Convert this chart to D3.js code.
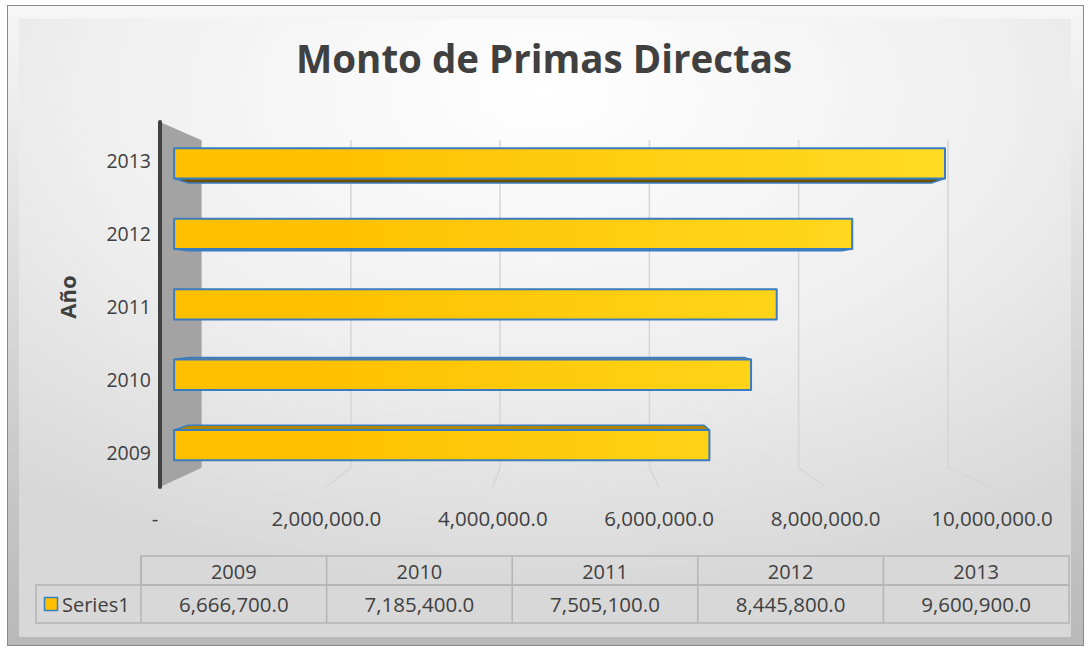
<!DOCTYPE html>
<html>
<head>
<meta charset="utf-8">
<script src="https://cdn.jsdelivr.net/npm/d3@7"></script>
<style>
  body { margin: 0; background: #fff; }
  text { font-family: "Open Sans", "Liberation Sans", sans-serif; fill: #404040; }
</style>
</head>
<body>
<svg id="chart" width="1089" height="650"></svg>
<script>
const years = ['2009', '2010', '2011', '2012', '2013']
const values = [6666700, 7185400, 7505100, 8445800, 9600900]
const ticks = [0, 2000000, 4000000, 6000000, 8000000, 10000000]
const seriesName = 'Series1'
const title = 'Monto de Primas Directas'
const yTitle = 'Año'

const svg = d3.select('#chart')
const defs = svg.append('defs')

// background + bevelled frame
const bg = defs.append('radialGradient').attr('id', 'bg')
  .attr('cx', '0.5').attr('cy', '0.12').attr('r', '0.8')
bg.append('stop').attr('offset', '0').attr('stop-color', '#ffffff')
bg.append('stop').attr('offset', '0.55').attr('stop-color', '#efefef')
bg.append('stop').attr('offset', '1').attr('stop-color', '#d8d8d8')

const bevel = defs.append('linearGradient').attr('id', 'bevel')
  .attr('x1', 0).attr('y1', 0).attr('x2', 0).attr('y2', 1)
bevel.append('stop').attr('offset', '0').attr('stop-color', '#f6f6f6')
bevel.append('stop').attr('offset', '1').attr('stop-color', '#b8b8b8')

svg.append('rect').attr('x', 7.5).attr('y', 5.5).attr('width', 1076).attr('height', 640)
  .attr('fill', 'url(#bevel)').attr('stroke', '#8a8a8a')
svg.append('rect').attr('x', 19).attr('y', 19).attr('width', 1052).attr('height', 618)
  .attr('fill', 'url(#bg)')

// title
svg.append('text').attr('x', 544).attr('y', 73).attr('text-anchor', 'middle')
  .style('font-size', '38.5px').style('font-weight', 'bold').text(title)

// perspective helpers: front plane coords projected toward a vanishing point
const vp = [564, 299]
const kBack = 0.897
const kBarFront = 0.965
const kBarBack = 0.93
const proj = (xf, yf, k) => [vp[0] + k * (xf - vp[0]), vp[1] + k * (yf - vp[1])]
const pts = arr => arr.map(p => p.join(',')).join(' ')

const x = d3.scaleLinear().domain([0, 10000000]).range([160, 992])
const y = d3.scaleBand().domain(years.slice().reverse()).range([122, 487])
  .paddingInner(0.57).paddingOuter(0.285)
const yTop = 122
const yBot = 487

// left side wall
svg.append('polygon')
  .attr('points', pts([proj(x(0), yTop, 1), proj(x(0), yTop, kBack), proj(x(0), yBot, kBack), proj(x(0), yBot, 1)]))
  .attr('fill', '#a3a3a3')

// gridlines on back wall + floor
const grid = svg.append('g').attr('fill', 'none').attr('stroke', '#d6d6d6').attr('stroke-width', 1.5)
ticks.slice(1).forEach(v => {
  const a = proj(x(v), yTop, kBack)
  const b = proj(x(v), yBot, kBack)
  const c = proj(x(v), yBot, 1)
  grid.append('path').attr('d', `M ${a[0]} ${a[1]} L ${b[0]} ${b[1]} L ${c[0]} ${c[1]}`)
})

// dark axis line at front
svg.append('line').attr('x1', x(0)).attr('x2', x(0)).attr('y1', yTop).attr('y2', yBot)
  .attr('stroke', '#404040').attr('stroke-width', 4).attr('stroke-linecap', 'round')

// bars
const barGrad = defs.append('linearGradient').attr('id', 'barGrad')
  .attr('gradientUnits', 'userSpaceOnUse').attr('x1', 300).attr('x2', 960).attr('y1', 0).attr('y2', 0)
barGrad.append('stop').attr('offset', '0').attr('stop-color', '#ffc000')
barGrad.append('stop').attr('offset', '1').attr('stop-color', '#ffdc22')

const bars = svg.append('g')
years.forEach((yr, i) => {
  const v = values[i]
  const y0 = y(yr)
  const y1 = y0 + y.bandwidth()
  const fTL = proj(x(0), y0, kBarFront)
  const fTR = proj(x(v), y0, kBarFront)
  const fBR = proj(x(v), y1, kBarFront)
  const fBL = proj(x(0), y1, kBarFront)
  const bTL = proj(x(0), y0, kBarBack)
  const bTR = proj(x(v), y0, kBarBack)
  const bBR = proj(x(v), y1, kBarBack)
  const bBL = proj(x(0), y1, kBarBack)
  if (fTL[1] > vp[1]) {
    bars.append('polygon').attr('points', pts([fTL, fTR, bTR, bTL]))
      .attr('fill', '#b08600').attr('stroke', '#3a7cc0').attr('stroke-width', 1.5).attr('stroke-linejoin', 'round')
  }
  if (fBL[1] < vp[1]) {
    bars.append('polygon').attr('points', pts([fBL, fBR, bBR, bBL]))
      .attr('fill', '#6a5000').attr('stroke', '#3a7cc0').attr('stroke-width', 1.5).attr('stroke-linejoin', 'round')
  }
  bars.append('polygon').attr('points', pts([fTL, fTR, fBR, fBL]))
    .attr('fill', 'url(#barGrad)').attr('stroke', '#3a7cc0').attr('stroke-width', 2).attr('stroke-linejoin', 'round')
})

// category labels
svg.append('g').selectAll('text').data(years).join('text')
  .attr('x', 151).attr('y', d => y(d) + y.bandwidth() / 2 + 2)
  .attr('text-anchor', 'end').attr('dominant-baseline', 'central')
  .style('font-size', '19.5px').text(d => d)

svg.append('text').attr('transform', 'translate(67,297) rotate(-90)')
  .attr('text-anchor', 'middle').attr('dominant-baseline', 'central')
  .style('font-size', '22px').style('font-weight', 'bold').text(yTitle)

// value tick labels
const fmt = d3.format(',.1f')
svg.append('g').selectAll('text').data(ticks).join('text')
  .attr('x', d => d === 0 ? 155 : x(d)).attr('y', 518)
  .attr('text-anchor', 'middle').attr('dominant-baseline', 'central')
  .style('font-size', '20.5px').text(d => d === 0 ? '-' : fmt(d))

// data table
const tx = d3.scaleBand().domain(years).range([141, 1069])
const tbl = svg.append('g').attr('stroke', '#b4b4b4').attr('stroke-width', 1.5).attr('fill', 'none')
tbl.append('rect').attr('x', 141).attr('y', 556).attr('width', 928).attr('height', 29)
tbl.append('rect').attr('x', 36).attr('y', 585).attr('width', 1033).attr('height', 38)
years.slice(1).forEach(yr => {
  tbl.append('line').attr('x1', tx(yr)).attr('x2', tx(yr)).attr('y1', 556).attr('y2', 623)
})
tbl.append('line').attr('x1', 141).attr('x2', 141).attr('y1', 556).attr('y2', 623)

svg.append('g').selectAll('text').data(years).join('text')
  .attr('x', d => tx(d) + tx.bandwidth() / 2).attr('y', 571)
  .attr('text-anchor', 'middle').attr('dominant-baseline', 'central')
  .style('font-size', '20px').text(d => d)
svg.append('g').selectAll('text').data(values).join('text')
  .attr('x', (d, i) => tx(years[i]) + tx.bandwidth() / 2).attr('y', 604)
  .attr('text-anchor', 'middle').attr('dominant-baseline', 'central')
  .style('font-size', '20.5px').text(d => fmt(d))

svg.append('rect').attr('x', 44.5).attr('y', 597.5).attr('width', 13).attr('height', 13)
  .attr('fill', '#ffc000').attr('stroke', '#3a7cc0').attr('stroke-width', 1.5)
svg.append('text').attr('x', 62).attr('y', 604).attr('dominant-baseline', 'central')
  .style('font-size', '20px').text(seriesName)
</script>
</body>
</html>
